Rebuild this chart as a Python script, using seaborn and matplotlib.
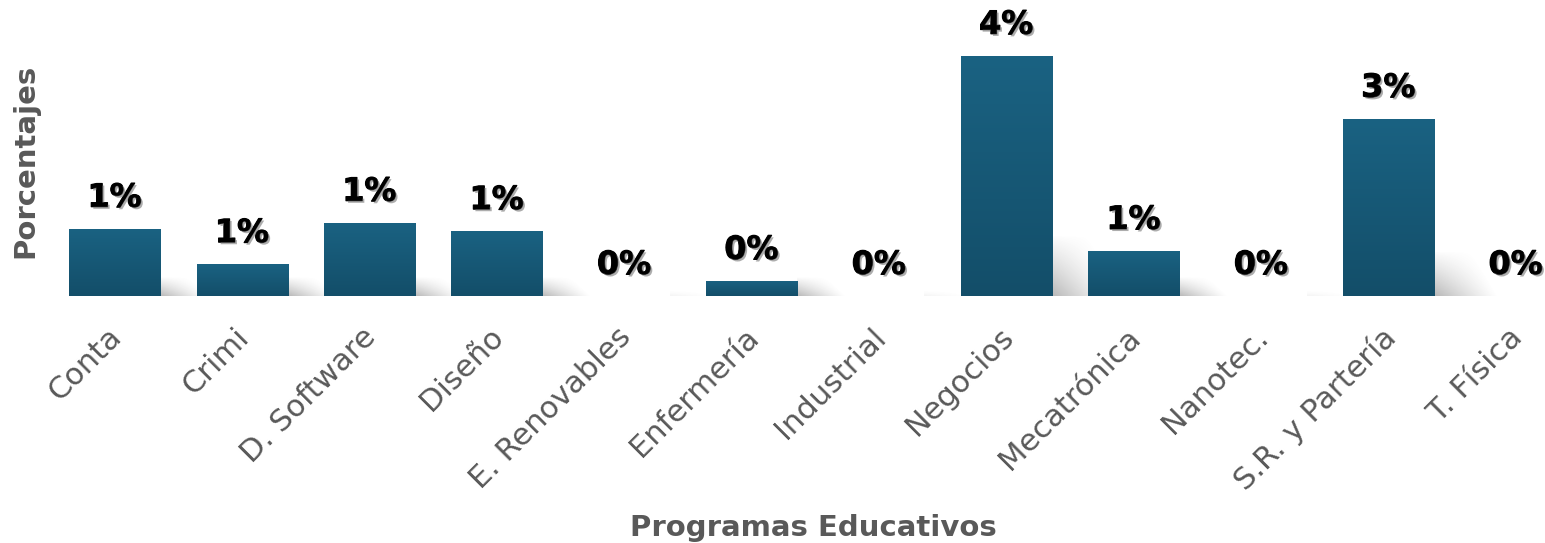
import numpy as np
import pandas as pd
import matplotlib
matplotlib.use("Agg")
import matplotlib.pyplot as plt
import matplotlib.patheffects as pe
import matplotlib.transforms as mtransforms
import seaborn as sns

programas = ["Conta", "Crimi", "D. Software", "Diseño", "E. Renovables", "Enfermería",
             "Industrial", "Negocios", "Mecatrónica", "Nanotec.", "S.R. y Partería", "T. Física"]
porcentajes = [1.12, 0.53, 1.22, 1.08, 0.0, 0.25, 0.0, 4.0, 0.75, 0.0, 2.95, 0.0]
etiquetas = ["1%", "1%", "1%", "1%", "0%", "0%", "0%", "4%", "1%", "0%", "3%", "0%"]

df = pd.DataFrame({"Programa": programas, "Porcentaje": porcentajes})

sns.set_style("white")
plt.rcParams['font.family'] = ['DejaVu Sans']

fig = plt.figure(figsize=(15.45, 5.43), dpi=100)
ax = fig.add_axes([51/1545, (543-296)/543, (1545-51)/1545, 296/543])

sns.barplot(data=df, x="Programa", y="Porcentaje", ax=ax, color="#175d7c",
            width=0.715, saturation=1)

ax.set_xlim(-0.5, 11.23)
ax.set_ylim(0, 4.93)

top_c = np.array([26, 98, 130]) / 255
bot_c = np.array([19, 78, 105]) / 255
grad = np.linspace(0, 1, 100)[:, None]
grad_img = top_c[None, None, :] * (1 - grad[:, :, None]) + bot_c[None, None, :] * grad[:, :, None]

for p, h, lab in zip(ax.patches, porcentajes, etiquetas):
    x0 = p.get_x(); w = p.get_width(); x1 = x0 + w
    # soft cast shadow to the right of each bar
    if h > 0:
        sh_h = min(max(h * 0.25, 0.3), 1.05)
        sh_w = 0.5 if h > 1.5 else 0.38
        amax = 0.50
    else:
        sh_h = 0.08
        sh_w = 0.35
        amax = 0.08
    nx, ny = 60, 40
    xs = np.linspace(0, 1, nx)[None, :]
    ys = np.linspace(0, 1, ny)[:, None]
    alpha = amax * np.clip(1 - xs - ys * 0.4, 0, 1) ** 1.1 * np.clip(1 - ys, 0, 1) ** 0.7
    rgba = np.zeros((ny, nx, 4))
    rgba[..., :3] = 0.45
    rgba[..., 3] = alpha
    ax.imshow(rgba, extent=[x1, x1 + sh_w, 0, sh_h], origin="lower", aspect="auto",
              zorder=1, interpolation="bilinear")
    if h > 0:
        im = ax.imshow(grad_img, extent=[x0, x1, 0, h], origin="upper", aspect="auto", zorder=2)
        im.set_clip_path(p)
    p.set_facecolor("none")
    p.set_edgecolor("none")
    ax.text(x0 + w / 2, h + 0.25, lab, ha="center", va="bottom", fontsize=23,
            fontweight="heavy", color="black", zorder=5,
            path_effects=[pe.Stroke(linewidth=0.8, foreground="black"),
                          pe.withSimplePatchShadow(offset=(1.5, -1.5), shadow_rgbFace="#777777", alpha=0.6)])

ax.set_xlim(-0.5, 11.23)
ax.set_ylim(0, 4.93)

ax.set_yticks([])
ax.tick_params(axis="x", length=0, pad=19)
shift = mtransforms.ScaledTranslation(-0.08, 0, fig.dpi_scale_trans)
for t in ax.get_xticklabels():
    t.set_rotation(45)
    t.set_ha("right")
    t.set_rotation_mode("anchor")
    t.set_fontsize(22)
    t.set_color("#595959")
    t.set_transform(t.get_transform() + shift)

ax.set_xlabel("Programas Educativos", fontsize=21, fontweight="bold", color="#595959")
ax.set_ylabel("Porcentajes", fontsize=21, fontweight="bold", color="#595959")
ax.xaxis.set_label_coords(0.51, -0.735)
ax.yaxis.set_label_coords(-0.008, 0.455)

for s in ax.spines.values():
    s.set_visible(False)

fig.savefig("out.png", dpi=100)
